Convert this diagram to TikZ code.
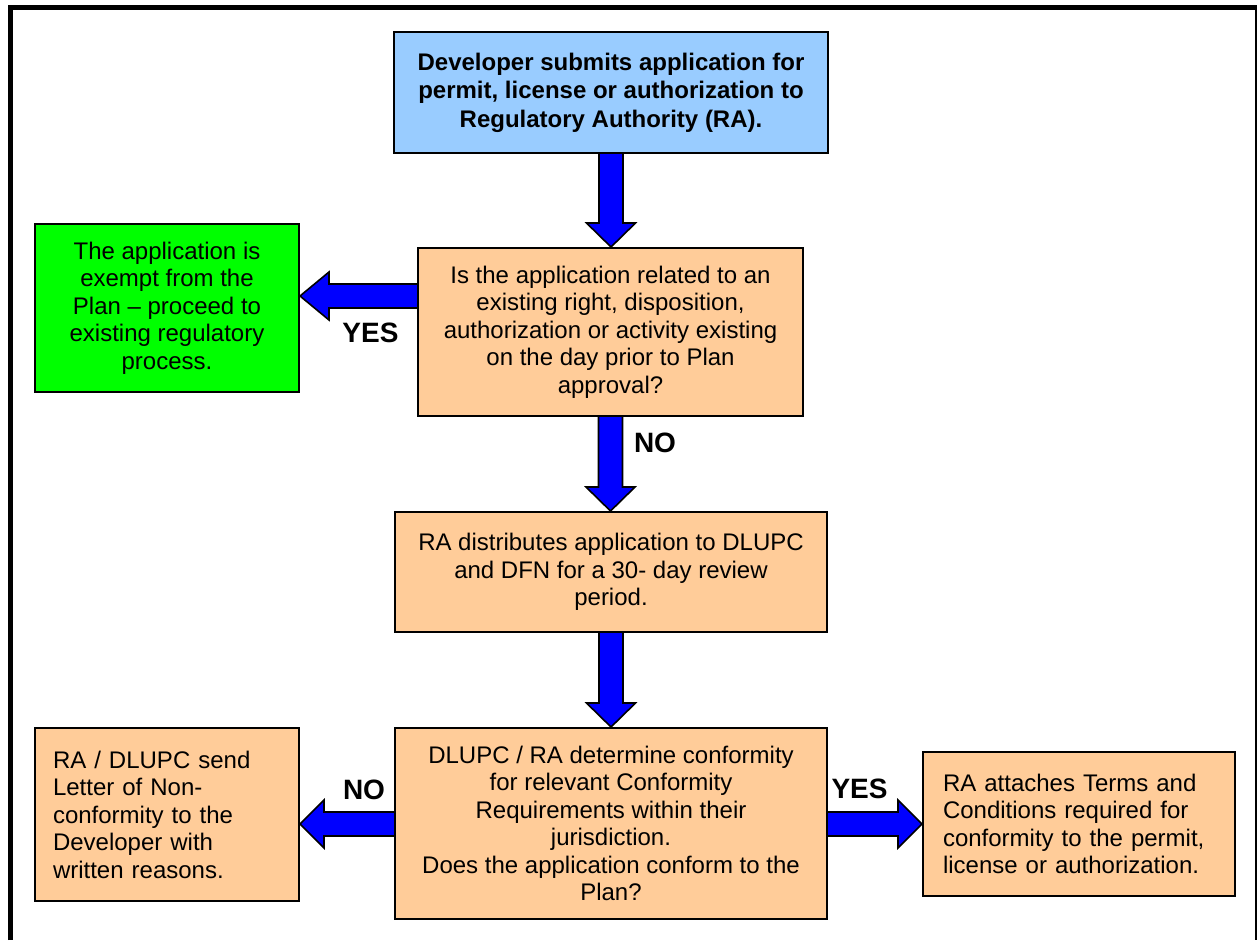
\documentclass[tikz,border=0pt]{standalone}
\usepackage{fontspec}
\setmainfont{Liberation Sans}
\usetikzlibrary{calc,backgrounds}
\definecolor{boxorange}{HTML}{FFCC99}
\definecolor{boxblue}{HTML}{99CCFF}
\definecolor{boxgreen}{HTML}{00FF00}
\definecolor{arrowblue}{HTML}{0000FF}
\tikzset{
  box/.style={draw=black, line width=2pt, rectangle, inner sep=0pt, align=center,
    font=\fontsize{24}{27.5}\selectfont},
  orangebox/.style={box, fill=boxorange},
  leftbox/.style={box, fill=boxorange, align=left, inner xsep=#1},
  blockarrow/.style={fill=arrowblue, draw=black, line width=1.6pt, line join=miter},
  lab/.style={font=\bfseries\fontsize{28}{30}\selectfont, inner sep=0pt},
}
\begin{document}
\begin{tikzpicture}[x=1pt,y=-1pt]
\useasboundingbox (0,0) rectangle (1257,940);
% frame
\draw[line width=5pt] (10.5,940) -- (10.5,7.5) -- (1257,7.5);
\draw[line width=1.5pt] (1256,7.5) -- (1256,940);

% boxes
\node[box, fill=boxblue, minimum width=434, minimum height=121,
      font=\bfseries\fontsize{24}{28.5}\selectfont] (top) at (611,92.5)
  {Developer submits application for\\permit, license or authorization to\\Regulatory Authority (RA).};
\node[orangebox, minimum width=385, minimum height=168] (q) at (610.5,332)
  {Is the application related to an\\existing right, disposition,\\authorization or activity existing\\on the day prior to Plan\\approval?};
\node[box, fill=boxgreen, minimum width=264, minimum height=168] (ex) at (167,308)
  {The application is\\exempt from the\\Plan -- proceed to\\existing regulatory\\process.};
\node[orangebox, minimum width=432, minimum height=120] (dist) at (611,572)
  {RA distributes application to DLUPC\\and DFN for a 30- day review\\period.};
\node[orangebox, minimum width=432, minimum height=191] (conf) at (611,823.5)
  {DLUPC / RA determine conformity\\for relevant Conformity\\Requirements within their\\jurisdiction.\\Does the application conform to the\\Plan?};
\node[leftbox=18pt, text width=228, minimum height=173] (non) at (167,814.5)
  {RA / DLUPC send\\Letter of Non-\\conformity to the\\Developer with\\written reasons.};
\node[leftbox=20pt, text width=272, minimum height=144] (terms) at (1079,824)
  {RA attaches Terms and\\Conditions required for\\conformity to the permit,\\license or authorization.};

% arrows
\begin{scope}[on background layer]
  % top -> q
  \coordinate (t1) at (top.south |- q.north);
  \draw[blockarrow] ($(top.south)+(-12,-2)$) -- ($(top.south)+(12,-2)$) -- ($(t1)+(12,-24)$)
    -- ($(t1)+(24.5,-24)$) -- (t1) -- ($(t1)+(-24.5,-24)$) -- ($(t1)+(-12,-24)$) -- cycle;
  % q -> dist
  \coordinate (t2) at (q.south |- dist.north);
  \draw[blockarrow] ($(q.south)+(-12,-2)$) -- ($(q.south)+(12,-2)$) -- ($(t2)+(12,-24)$)
    -- ($(t2)+(24.5,-24)$) -- (t2) -- ($(t2)+(-24.5,-24)$) -- ($(t2)+(-12,-24)$) -- cycle;
  % dist -> conf
  \coordinate (t3) at (dist.south |- conf.north);
  \draw[blockarrow] ($(dist.south)+(-12,-2)$) -- ($(dist.south)+(12,-2)$) -- ($(t3)+(12,-24)$)
    -- ($(t3)+(24.5,-24)$) -- (t3) -- ($(t3)+(-24.5,-24)$) -- ($(t3)+(-12,-24)$) -- cycle;
  % q -> ex (YES)
  \coordinate (s4) at ($(q.west)+(2,-36)$);
  \coordinate (t4) at (ex.east |- s4);
  \draw[blockarrow] ($(s4)+(0,-12)$) -- ($(s4)+(0,12)$) -- ($(t4)+(29,12)$)
    -- ($(t4)+(29,24)$) -- (t4) -- ($(t4)+(29,-24)$) -- ($(t4)+(29,-12)$) -- cycle;
  % conf -> non (NO)
  \coordinate (s5) at ($(conf.west)+(2,0.5)$);
  \coordinate (t5) at (non.east |- s5);
  \draw[blockarrow] ($(s5)+(0,-12)$) -- ($(s5)+(0,12)$) -- ($(t5)+(24,12)$)
    -- ($(t5)+(24,24)$) -- (t5) -- ($(t5)+(24,-24)$) -- ($(t5)+(24,-12)$) -- cycle;
  % conf -> terms (YES)
  \coordinate (s6) at ($(conf.east)+(-2,0.5)$);
  \coordinate (t6) at (terms.west |- s6);
  \draw[blockarrow] ($(s6)+(0,-12)$) -- ($(s6)+(0,12)$) -- ($(t6)+(-24,12)$)
    -- ($(t6)+(-24,24)$) -- (t6) -- ($(t6)+(-24,-24)$) -- ($(t6)+(-24,-12)$) -- cycle;
\end{scope}

% labels
\node[lab] (yes1) at (370.5,333) {YES};
\node[lab] (no1) at (655,443) {NO};
\node[lab] (no2) at (364,790) {NO};
\node[lab] (yes2) at (859.5,789) {YES};
\end{tikzpicture}
\end{document}
